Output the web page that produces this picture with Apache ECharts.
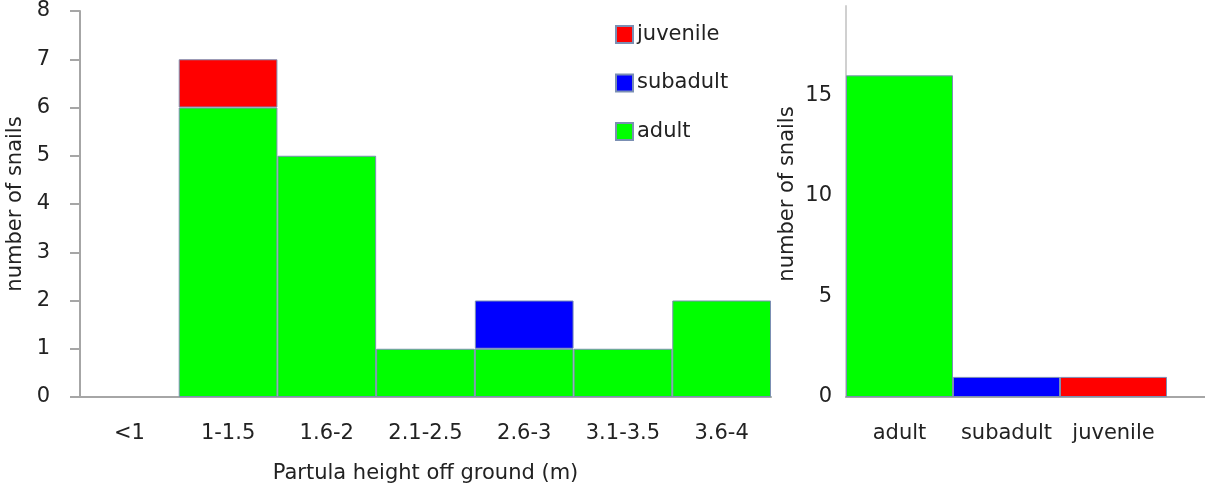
<!DOCTYPE html>
<html>
<head>
<meta charset="utf-8">
<script src="https://cdn.jsdelivr.net/npm/echarts@6/dist/echarts.min.js"></script>
<style>
  html, body { margin: 0; padding: 0; background: #fff; }
  #chart { width: 1205px; height: 486px; }
</style>
</head>
<body>
<div id="chart"></div>
<script>
// Snail counts by height band, split by life stage
const heightBands = ['<1', '1-1.5', '1.6-2', '2.1-2.5', '2.6-3', '3.1-3.5', '3.6-4'];
const adultCounts = [0, 6, 5, 1, 1, 1, 2];
const subadultCounts = [0, 0, 0, 0, 1, 0, 0];
const juvenileCounts = [0, 1, 0, 0, 0, 0, 0];

// Totals per life stage
const stages = ['adult', 'subadult', 'juvenile'];
const stageTotals = [16, 1, 1];

const leftTicks = [0, 1, 2, 3, 4, 5, 6, 7, 8];
const rightTickLabels = [0, 5, 10, 15];

const FONT = '"DejaVu Sans", sans-serif';
const FS = 21;
const TEXT = '#222';
const AXIS = '#a6a6a6';
const EDGE = '#7b8fb3';
const stageColor = { adult: '#00ff00', subadult: '#0000ff', juvenile: '#ff0000' };

const nz = arr => arr.map(v => (v === 0 ? null : v));

const chart = echarts.init(document.getElementById('chart'), null, { renderer: 'canvas' });

chart.setOption({
  animation: false,
  textStyle: { fontFamily: FONT, color: TEXT },
  legend: {
    orient: 'vertical',
    left: 610,
    top: 19,
    itemWidth: 17,
    itemHeight: 17,
    itemGap: 27.5,
    icon: 'rect',
    data: ['juvenile', 'subadult', 'adult'],
    textStyle: { fontFamily: FONT, fontSize: FS, lineHeight: 17, color: TEXT, padding: [0, 0, 0, -1] }
  },
  grid: [
    { left: 80, top: 11, width: 691, height: 386, outerBoundsMode: 'none', containLabel: false },
    { left: 846, top: 6, width: 428, height: 391, outerBoundsMode: 'none', containLabel: false }
  ],
  xAxis: [
    {
      type: 'category', gridIndex: 0, data: heightBands,
      name: 'Partula height off ground (m)', nameLocation: 'middle', nameGap: 66,
      nameTextStyle: { fontFamily: FONT, fontSize: FS, color: TEXT },
      axisLine: { lineStyle: { color: AXIS, width: 2 } },
      axisTick: { length: 8, lineStyle: { color: AXIS, width: 2 } },
      axisLabel: { fontFamily: FONT, fontSize: FS, color: TEXT, margin: 26, interval: 0 }
    },
    {
      type: 'category', gridIndex: 1, data: stages.concat(['']),
      axisLine: { lineStyle: { color: AXIS, width: 2 } },
      axisTick: { length: 5, lineStyle: { color: AXIS, width: 1 } },
      axisLabel: { fontFamily: FONT, fontSize: FS, color: TEXT, margin: 26, interval: 0 }
    }
  ],
  yAxis: [
    {
      type: 'value', gridIndex: 0, min: 0, max: leftTicks[leftTicks.length - 1], interval: 1,
      name: 'number of snails', nameLocation: 'middle', nameGap: 51,
      nameTextStyle: { fontFamily: FONT, fontSize: FS, color: TEXT },
      splitLine: { show: false },
      axisLine: { show: true, lineStyle: { color: AXIS, width: 2 } },
      axisTick: { show: true, length: 10, lineStyle: { color: AXIS, width: 2 } },
      axisLabel: { fontFamily: FONT, fontSize: FS, color: TEXT, margin: 30 }
    },
    {
      type: 'value', gridIndex: 1, min: 0, max: 19.45, interval: 5,
      name: 'number of snails', nameLocation: 'middle', nameGap: 48,
      nameTextStyle: { fontFamily: FONT, fontSize: FS, color: TEXT, padding: [0, 0, 0, 15] },
      splitLine: { show: false },
      axisLine: { show: true, lineStyle: { color: '#d0d0d0', width: 2 } },
      axisTick: { show: false },
      axisLabel: {
        fontFamily: FONT, fontSize: FS, color: TEXT, margin: 14,
        formatter: v => (rightTickLabels.includes(v) ? String(v) : '')
      }
    },
    {
      // tick marks only, on their own spacing
      type: 'value', gridIndex: 1, min: 0, max: 19.45, interval: 10 / 3,
      splitLine: { show: false },
      axisLine: { show: false },
      axisLabel: { show: false },
      axisTick: { show: true, length: 4, lineStyle: { color: '#a0a0a0', width: 1 } }
    }
  ],
  series: [
    {
      name: 'adult', type: 'bar', stack: 'h', xAxisIndex: 0, yAxisIndex: 0,
      data: nz(adultCounts), barWidth: '100%', barCategoryGap: 0,
      itemStyle: { color: stageColor.adult, borderColor: EDGE, borderWidth: 1 }
    },
    {
      name: 'subadult', type: 'bar', stack: 'h', xAxisIndex: 0, yAxisIndex: 0,
      data: nz(subadultCounts), barWidth: '100%',
      itemStyle: { color: stageColor.subadult, borderColor: EDGE, borderWidth: 1 }
    },
    {
      name: 'juvenile', type: 'bar', stack: 'h', xAxisIndex: 0, yAxisIndex: 0,
      data: nz(juvenileCounts), barWidth: '100%',
      itemStyle: { color: stageColor.juvenile, borderColor: EDGE, borderWidth: 1 }
    },
    {
      name: 'totals', type: 'bar', xAxisIndex: 1, yAxisIndex: 1,
      barWidth: '100%', barCategoryGap: 0,
      data: stageTotals.map((v, i) => ({
        value: v,
        itemStyle: { color: stageColor[stages[i]], borderColor: EDGE, borderWidth: 1 }
      }))
    }
  ]
});
</script>
</body>
</html>
